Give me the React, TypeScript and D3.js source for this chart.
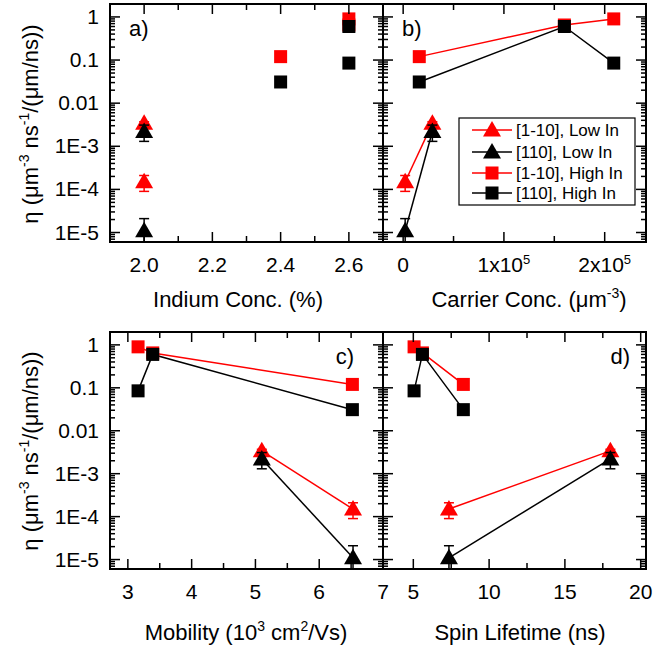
import React from "react";
import * as d3 from "d3";

// ---- Data ----
// Low In samples
const lowInIndium = [2.0, 2.0];
const lowInCarrier = [2000, 29000];
const lowInMobility = [6.53, 5.1];
const lowInLifetime = [7.35, 18.0];
const lowIn1m10 = [1.5e-4, 3.4e-3];
const lowIn1m10Err = [0.6e-4, 0.3e-3];
const lowIn110 = [1.1e-5, 2.2e-3];
const lowIn110Err = [1.0e-5, 0.9e-3];

// High In samples
const highInIndium = [2.4, 2.6, 2.6];
const highInCarrier = [16000, 160000, 209000];
const highInMobility = [6.52, 3.39, 3.16];
const highInLifetime = [8.3, 5.6, 5.05];
const highIn1m10 = [0.12, 0.65, 0.9];
const highIn1m10Err = [0.01, 0.05, 0.05];
const highIn110 = [0.031, 0.6, 0.085];
const highIn110Err = [0.003, 0.1, 0.008];

const seriesNames = ["[1-10], Low In", "[110], Low In", "[1-10], High In", "[110], High In"];
const seriesColors = ["#ff0000", "#000000", "#ff0000", "#000000"];
const seriesShapes = ["triangle", "triangle", "square", "square"];

const yTickValues = [1e-5, 1e-4, 1e-3, 0.01, 0.1, 1];
const yTickLabels = ["1E-5", "1E-4", "1E-3", "0.01", "0.1", "1"];

const FONT = "'Liberation Sans', Arial, sans-serif";

type PanelDef = {
  key: string;
  x0: number; x1: number; y0: number; y1: number;
  domain: [number, number];
  major: number[];
  minor: number[];
  fmt: (v: number) => React.ReactNode;
  lines: boolean;
  label: string;
  labelX: number; labelY: number; labelAnchor: string;
  yLabels: boolean;
  xs: [number[], number[]]; // lowIn, highIn
};

const sup = (base: string, exp: string) => (
  <>
    {base}
    <tspan dy={-8} fontSize={13}>{exp}</tspan>
  </>
);

const panels: PanelDef[] = [
  {
    key: "a", x0: 110, x1: 383, y0: 4, y1: 242,
    domain: [1.9, 2.7], major: [2.0, 2.2, 2.4, 2.6], minor: [2.1, 2.3, 2.5],
    fmt: (v) => v.toFixed(1), lines: false, label: "a)", labelX: 129, labelY: 36, labelAnchor: "start",
    yLabels: true, xs: [lowInIndium, highInIndium],
  },
  {
    key: "b", x0: 383, x1: 646, y0: 4, y1: 242,
    domain: [-20000, 241000], major: [0, 100000, 200000], minor: [50000, 150000],
    fmt: (v) => (v === 0 ? "0" : sup(`${v / 100000}x10`, "5")), lines: true, label: "b)", labelX: 402, labelY: 36, labelAnchor: "start",
    yLabels: false, xs: [lowInCarrier, highInCarrier],
  },
  {
    key: "c", x0: 110, x1: 383, y0: 332, y1: 569,
    domain: [2.72, 7.0], major: [3, 4, 5, 6, 7], minor: [3.5, 4.5, 5.5, 6.5],
    fmt: (v) => `${v}`, lines: true, label: "c)", labelX: 354, labelY: 364, labelAnchor: "end",
    yLabels: true, xs: [lowInMobility, highInMobility],
  },
  {
    key: "d", x0: 383, x1: 646, y0: 332, y1: 569,
    domain: [3.0, 20.35], major: [5, 10, 15, 20], minor: [7.5, 12.5, 17.5],
    fmt: (v) => `${v}`, lines: true, label: "d)", labelX: 630, labelY: 364, labelAnchor: "end",
    yLabels: false, xs: [lowInLifetime, highInLifetime],
  },
];

const yMinor: number[] = [];
for (let d = -6; d <= 0; d++) for (let k = 2; k <= 9; k++) yMinor.push(k * Math.pow(10, d));

function marker(shape: string, x: number, y: number, color: string, k: string) {
  if (shape === "triangle") {
    return <path key={k} d={`M${x},${y - 9}L${x + 9},${y + 6.5}L${x - 9},${y + 6.5}Z`} fill={color} />;
  }
  return <rect key={k} x={x - 6.5} y={y - 6.5} width={13} height={13} fill={color} />;
}

function Panel({ p }: { p: PanelDef }) {
  const x = d3.scaleLinear().domain(p.domain).range([p.x0, p.x1]);
  const y = d3.scaleLog().domain([Math.pow(10, -5.22), Math.pow(10, 0.3)]).range([p.y1, p.y0]);
  const [lowX, highX] = p.xs;
  const series = [
    { xs: lowX, ys: lowIn1m10, err: lowIn1m10Err },
    { xs: lowX, ys: lowIn110, err: lowIn110Err },
    { xs: highX, ys: highIn1m10, err: highIn1m10Err },
    { xs: highX, ys: highIn110, err: highIn110Err },
  ];
  const clipId = `clip-${p.key}`;
  const [ylo, yhi] = y.domain();
  const line = d3.line<[number, number]>().x((d) => x(d[0])).y((d) => y(d[1]));
  const xTickLen = 10, xMinorLen = 6, yTickLen = 10, yMinorLen = 5;
  return (
    <g>
      <defs>
        <clipPath id={clipId}>
          <rect x={p.x0} y={p.y0} width={p.x1 - p.x0} height={p.y1 - p.y0} />
        </clipPath>
      </defs>
      <g clipPath={`url(#${clipId})`}>
        {p.lines &&
          series.map((s, i) => {
            const pts = s.xs.map((xv, j) => [xv, s.ys[j]] as [number, number]).sort((a, b) => a[0] - b[0]);
            return <path key={`l${i}`} d={line(pts) || ""} fill="none" stroke={seriesColors[i]} strokeWidth={1.5} />;
          })}
        {series.map((s, i) => (
          <g key={`s${i}`}>
            {s.xs.map((xv, j) => {
              const cx = x(xv);
              const lo = s.ys[j] - s.err[j];
              const hi = s.ys[j] + s.err[j];
              const yl = lo > ylo ? y(lo) : p.y1 + 5;
              const yh = hi < yhi ? y(hi) : p.y0 - 5;
              return (
                <g key={`e${i}-${j}`} stroke={seriesColors[i]} strokeWidth={1.5}>
                  <line x1={cx} x2={cx} y1={yl} y2={yh} />
                  {lo > ylo && <line x1={cx - 5} x2={cx + 5} y1={yl} y2={yl} />}
                  <line x1={cx - 5} x2={cx + 5} y1={yh} y2={yh} />
                </g>
              );
            })}
            {s.xs.map((xv, j) => marker(seriesShapes[i], x(xv), y(s.ys[j]), seriesColors[i], `m${i}-${j}`))}
          </g>
        ))}
      </g>
      {/* ticks */}
      <g stroke="#000" strokeWidth={1.5}>
        {p.major.map((v) => (
          <g key={`xt${v}`}>
            <line x1={x(v)} x2={x(v)} y1={p.y1} y2={p.y1 - xTickLen} />
            <line x1={x(v)} x2={x(v)} y1={p.y0} y2={p.y0 + xTickLen} />
          </g>
        ))}
        {p.minor.map((v) => (
          <g key={`xm${v}`}>
            <line x1={x(v)} x2={x(v)} y1={p.y1} y2={p.y1 - xMinorLen} />
            <line x1={x(v)} x2={x(v)} y1={p.y0} y2={p.y0 + xMinorLen} />
          </g>
        ))}
        {yTickValues.map((v) => (
          <g key={`yt${v}`}>
            <line x1={p.x0} x2={p.x0 + yTickLen} y1={y(v)} y2={y(v)} />
            <line x1={p.x1} x2={p.x1 - yTickLen} y1={y(v)} y2={y(v)} />
          </g>
        ))}
        {yMinor
          .filter((v) => v > ylo && v < yhi)
          .map((v) => (
            <g key={`ym${v}`}>
              <line x1={p.x0} x2={p.x0 + yMinorLen} y1={y(v)} y2={y(v)} />
              <line x1={p.x1} x2={p.x1 - yMinorLen} y1={y(v)} y2={y(v)} />
            </g>
          ))}
      </g>
      <rect x={p.x0} y={p.y0} width={p.x1 - p.x0} height={p.y1 - p.y0} fill="none" stroke="#000" strokeWidth={2} />
      {/* tick labels */}
      <g fontFamily={FONT} fontSize={21} fill="#000" textAnchor="middle">
        {p.major.map((v) => (
          <text key={`xl${v}`} x={x(v)} y={p.y1 + 30}>
            {p.fmt(v)}
          </text>
        ))}
      </g>
      {p.yLabels && (
        <g fontFamily={FONT} fontSize={21} fill="#000" textAnchor="end">
          {yTickValues.map((v, i) => (
            <text key={`yl${v}`} x={p.x0 - 11} y={y(v) + 7}>
              {yTickLabels[i]}
            </text>
          ))}
        </g>
      )}
      <text x={p.labelX} y={p.labelY} fontFamily={FONT} fontSize={22} textAnchor={p.labelAnchor}>
        {p.label}
      </text>
    </g>
  );
}

function Legend() {
  const bx = 459, by = 118, bw = 176, bh = 87;
  const rows = [130, 152, 173, 193];
  return (
    <g>
      <rect x={bx} y={by} width={bw} height={bh} fill="#fff" stroke="#000" strokeWidth={1.2} />
      {seriesNames.map((n, i) => (
        <g key={n}>
          <line x1={472} x2={512} y1={rows[i]} y2={rows[i]} stroke={seriesColors[i]} strokeWidth={1.5} />
          {marker(seriesShapes[i], 492, rows[i], seriesColors[i], `lg${i}`)}
          <text x={516} y={rows[i] + 6} fontFamily={FONT} fontSize={17} fill="#000">
            {n}
          </text>
        </g>
      ))}
    </g>
  );
}

function YTitle({ cy }: { cy: number }) {
  return (
    <text
      transform={`translate(38,${cy}) rotate(-90)`}
      textAnchor="middle"
      fontFamily={FONT}
      fontSize={22}
      fill="#000"
    >
      η (μm<tspan dy={-9} fontSize={14}>-3</tspan>
      <tspan dy={9}> ns</tspan>
      <tspan dy={-9} fontSize={14}>-1</tspan>
      <tspan dy={9}>/(μm/ns))</tspan>
    </text>
  );
}

export default function App() {
  return (
    <svg width={653} height={653} style={{ position: "absolute", left: 0, top: 0, background: "#fff" }}>
      <rect width={653} height={653} fill="#fff" />
      {panels.map((p) => (
        <Panel key={p.key} p={p} />
      ))}
      <Legend />
      <YTitle cy={124} />
      <YTitle cy={451} />
      <g fontFamily={FONT} fontSize={22} fill="#000" textAnchor="middle">
        <text x={238} y={307}>Indium Conc. (%)</text>
        <text x={529} y={307}>
          Carrier Conc. (μm<tspan dy={-9} fontSize={14}>-3</tspan>
          <tspan dy={9}>)</tspan>
        </text>
        <text x={246} y={640}>
          Mobility (10<tspan dy={-9} fontSize={14}>3</tspan>
          <tspan dy={9}> cm</tspan>
          <tspan dy={-9} fontSize={14}>2</tspan>
          <tspan dy={9}>/Vs)</tspan>
        </text>
        <text x={520} y={640}>Spin Lifetime (ns)</text>
      </g>
    </svg>
  );
}
